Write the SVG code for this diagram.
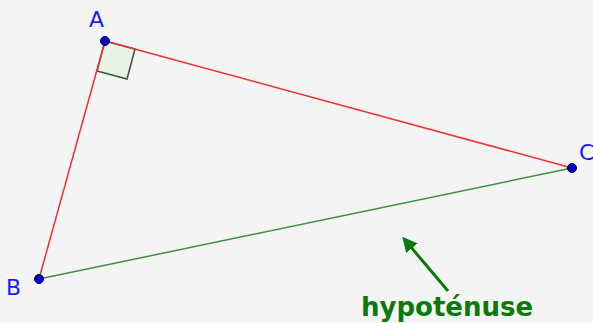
<svg xmlns="http://www.w3.org/2000/svg" width="593" height="323" viewBox="0 0 593 323">
<defs>
<style>
.lbl{font-family:"DejaVu Sans",sans-serif;font-size:22px;fill:#1a1aff}
.pt{fill:#0000cc;stroke:#000033;stroke-width:1}
</style>
<marker id="ah" viewBox="0 0 10 10" refX="2" refY="5" markerWidth="5" markerHeight="5" orient="auto" markerUnits="strokeWidth">
<path d="M0,0 L10,5 L0,10 z" fill="#0b7a0b"/>
</marker>
</defs>
<rect width="593" height="323" fill="#f4f4f4"/>
<g id="square"><polygon points="105,41 135,49 127,79 97,71" fill="#e6f4e6" stroke="#2e5a2e" stroke-width="1.5"/></g>
<g id="connectors">
<line x1="105" y1="41" x2="572" y2="168" stroke="#f03030" stroke-width="1.5"/>
<line x1="105" y1="41" x2="39" y2="279" stroke="#f03030" stroke-width="1.5"/>
<line x1="39" y1="279" x2="572" y2="168" stroke="#3a923a" stroke-width="1.5"/>
<line x1="448" y1="291" x2="410" y2="246" stroke="#0b7a0b" stroke-width="3" marker-end="url(#ah)"/>
</g>
<g id="A"><circle class="pt" cx="105" cy="41" r="4.5"/><text class="lbl" x="89" y="27">A</text></g>
<g id="B"><circle class="pt" cx="39" cy="279" r="4.5"/><text class="lbl" x="6" y="295">B</text></g>
<g id="C"><circle class="pt" cx="572" cy="168" r="4.5"/><text class="lbl" x="579" y="160">C</text></g>
<g id="hyp"><text x="361" y="316" font-family="DejaVu Sans,sans-serif" font-weight="bold" font-size="26" fill="#0b7a0b">hypoténuse</text></g>
</svg>
